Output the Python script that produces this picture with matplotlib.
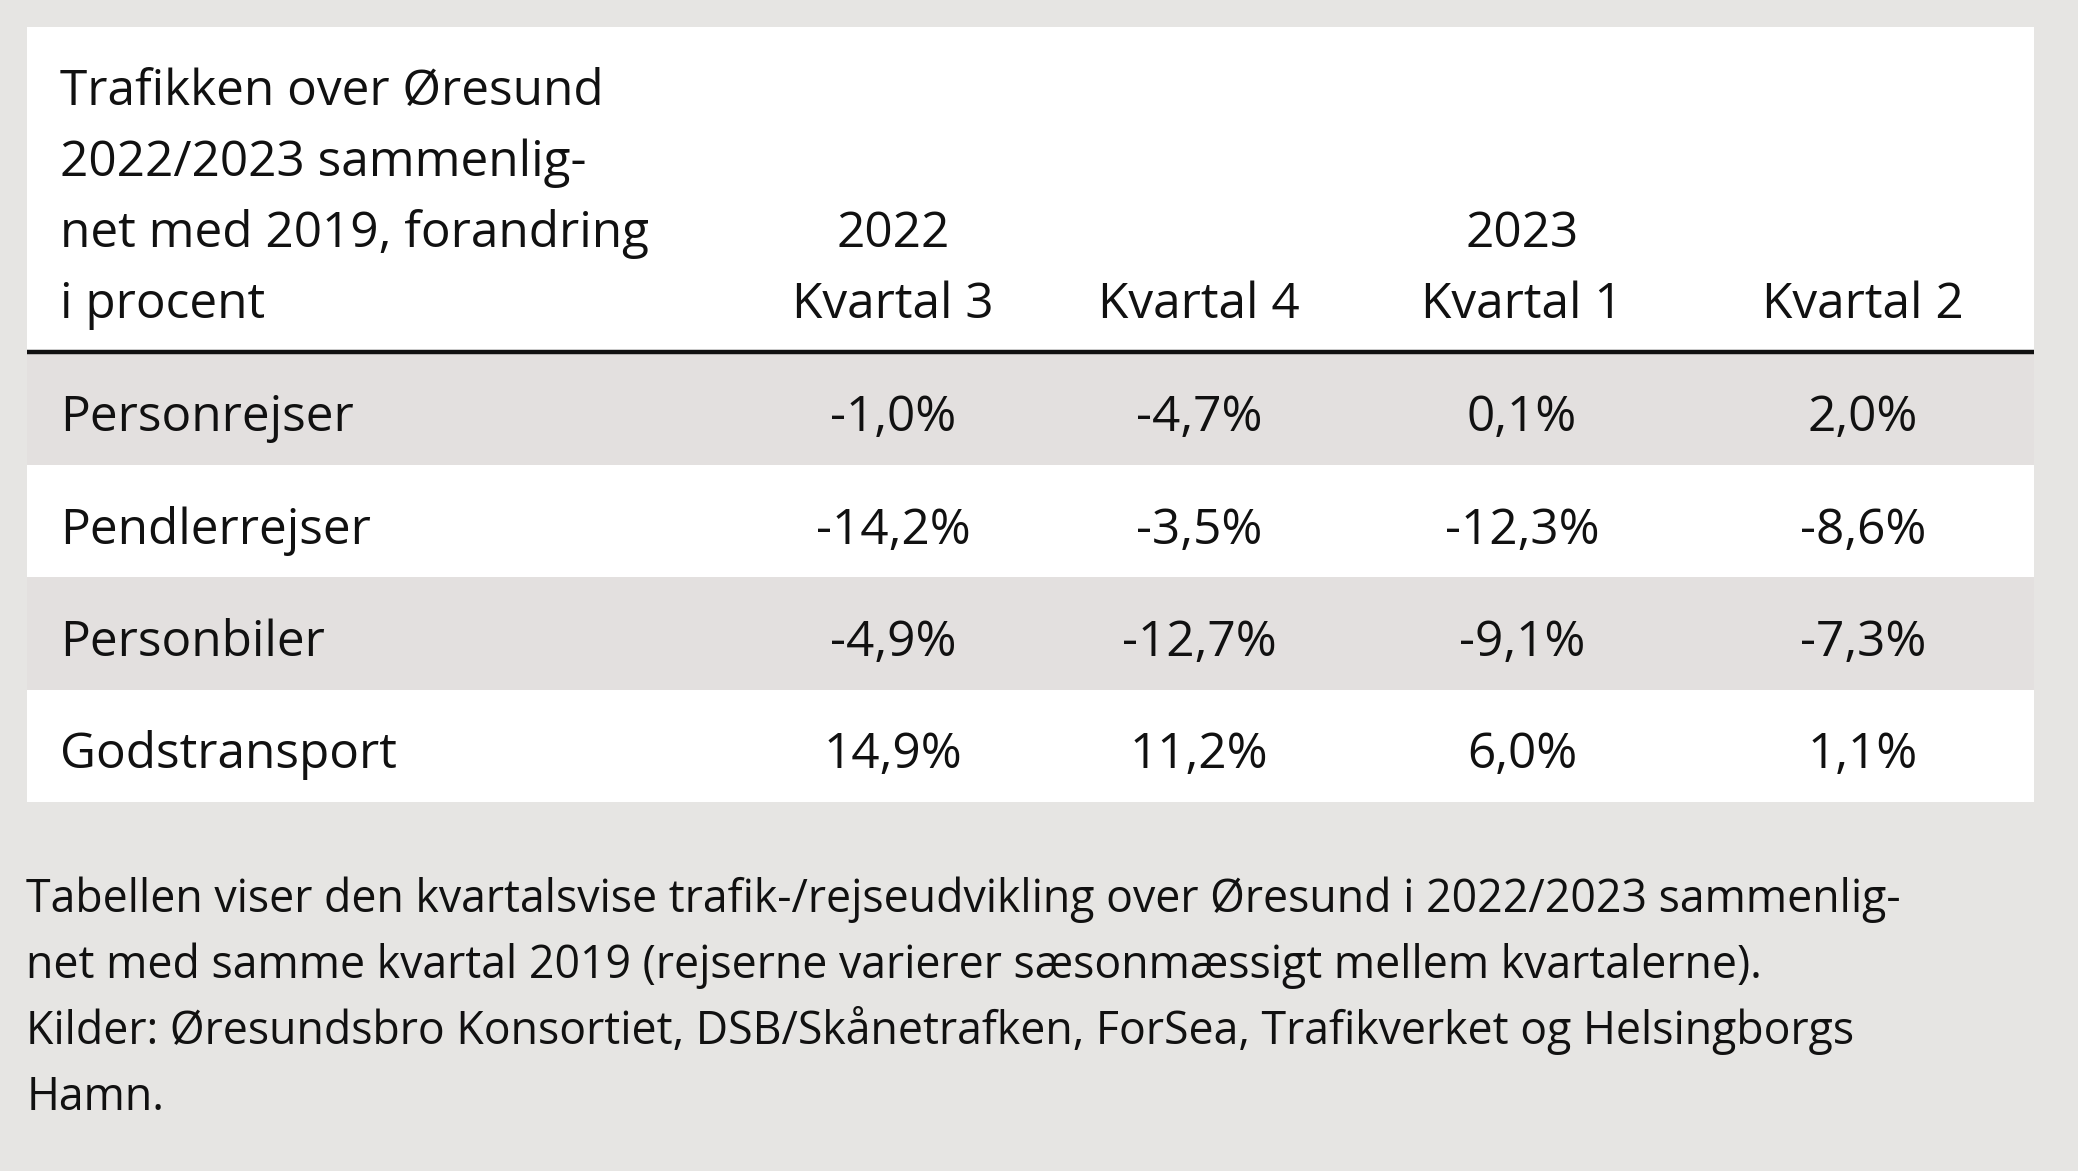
import matplotlib
matplotlib.use("Agg")
import matplotlib.pyplot as plt
from matplotlib.patches import Rectangle

# table data
title_lines = ["Trafikken over Øresund", "2022/2023 sammenlig-",
               "net med 2019, forandring", "i procent"]
years = ["2022", "", "2023", ""]
quarters = ["Kvartal 3", "Kvartal 4", "Kvartal 1", "Kvartal 2"]
rows = ["Personrejser", "Pendlerrejser", "Personbiler", "Godstransport"]
values = [
    ["-1,0%", "-4,7%", "0,1%", "2,0%"],
    ["-14,2%", "-3,5%", "-12,3%", "-8,6%"],
    ["-4,9%", "-12,7%", "-9,1%", "-7,3%"],
    ["14,9%", "11,2%", "6,0%", "1,1%"],
]
note_lines = [
    "Tabellen viser den kvartalsvise trafik-/rejseudvikling over Øresund i 2022/2023 sammenlig-",
    "net med samme kvartal 2019 (rejserne varierer sæsonmæssigt mellem kvartalerne).",
    "Kilder: Øresundsbro Konsortiet, DSB/Skånetrafken, ForSea, Trafikverket og Helsingborgs",
    "Hamn.",
]

W, H = 2078, 1171
bg = "#e6e5e3"
band = "#e3e0df"
font = "Open Sans"

fig = plt.figure(figsize=(W / 100, H / 100), dpi=100, facecolor=bg)
ax = fig.add_axes([0, 0, 1, 1])
ax.set_xlim(0, W)
ax.set_ylim(H, 0)
ax.axis("off")
renderer = fig.canvas.get_renderer()


def fit_size(text, target_w, base=30):
    # scale font so the rendered text is as wide as in the reference
    t = ax.text(0, 0, text, fontsize=base, family=font)
    w = t.get_window_extent(renderer).width
    t.remove()
    return base * target_w / w


big = fit_size(title_lines[0], 543)
small = fit_size(note_lines[0], 1875)

# white panel
left, right, top = 26.5, 2034, 26.5
header_y = 352
row_h = 112.5
ax.add_patch(Rectangle((left, top), right - left,
                       header_y + row_h * len(rows) - top, color="white", lw=0))

for i in range(len(rows)):
    if i % 2 == 0:
        ax.add_patch(Rectangle((left, header_y + i * row_h), right - left, row_h,
                               color=band, lw=0))
ax.plot([left, right], [header_y, header_y], color="#111111", lw=3.2,
        solid_capstyle="butt")

label_x = 60
col_x = [893, 1199, 1522, 1863]

# title block
for k, line in enumerate(title_lines):
    ax.text(label_x, 105 + k * 71, line, fontsize=big, family=font,
            va="baseline", ha="left", color="#111111")

for j in range(len(quarters)):
    if years[j]:
        ax.text(col_x[j], 247, years[j], fontsize=big, family=font,
                va="baseline", ha="center", color="#111111")
    ax.text(col_x[j], 318, quarters[j], fontsize=big, family=font,
            va="baseline", ha="center", color="#111111")

for i, name in enumerate(rows):
    base_y = header_y + i * row_h + 79
    ax.text(label_x, base_y, name, fontsize=big, family=font,
            va="baseline", ha="left", color="#111111")
    for j, v in enumerate(values[i]):
        ax.text(col_x[j], base_y, v, fontsize=big, family=font,
                va="baseline", ha="center", color="#111111")

for k, line in enumerate(note_lines):
    ax.text(26.5, 912 + k * 66, line, fontsize=small, family=font,
            va="baseline", ha="left", color="#111111")

fig.savefig("out.png", dpi=100, facecolor=bg)
